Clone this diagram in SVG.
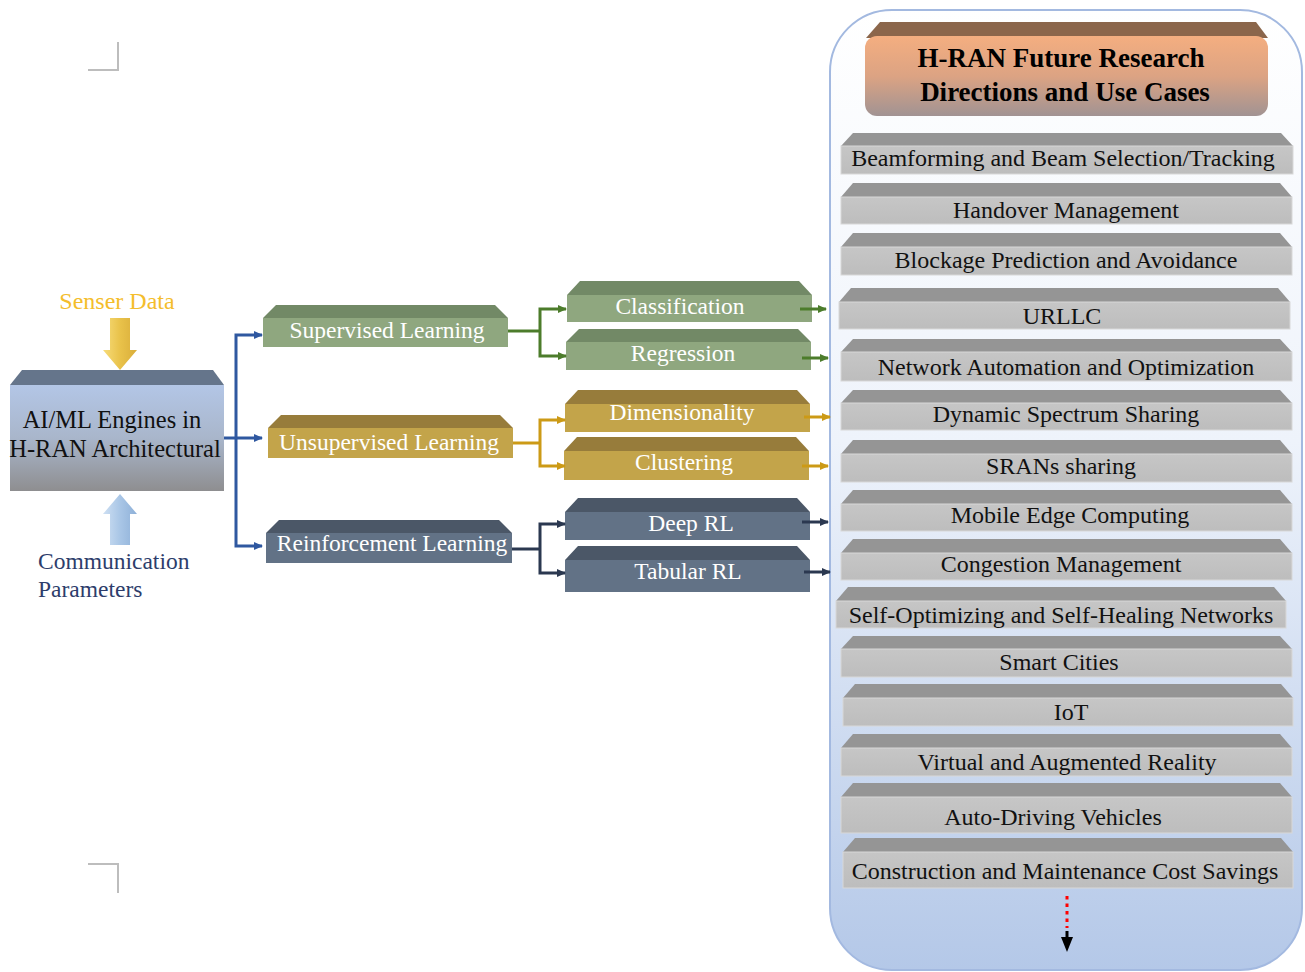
<svg xmlns="http://www.w3.org/2000/svg" width="1305" height="972" viewBox="0 0 1305 972">
<defs>
<linearGradient id="gCont" x1="0" y1="0" x2="0" y2="1">
<stop offset="0" stop-color="#ffffff"/><stop offset="0.45" stop-color="#eef3fb"/><stop offset="1" stop-color="#b4c8e8"/>
</linearGradient>
<linearGradient id="gTitle" x1="0" y1="0" x2="0" y2="1">
<stop offset="0" stop-color="#f4ae80"/><stop offset="0.5" stop-color="#dca383"/><stop offset="1" stop-color="#a19393"/>
</linearGradient>
<linearGradient id="gMain" x1="0" y1="0" x2="0" y2="1">
<stop offset="0" stop-color="#b3c6e6"/><stop offset="0.5" stop-color="#a9b6cb"/><stop offset="1" stop-color="#8e8e90"/>
</linearGradient>
<linearGradient id="gGrey" x1="0" y1="0" x2="0" y2="1">
<stop offset="0" stop-color="#c6c6c6"/><stop offset="1" stop-color="#bdbdbd"/>
</linearGradient>
<linearGradient id="gYel" x1="0" y1="0" x2="1" y2="0">
<stop offset="0" stop-color="#f7dc7a"/><stop offset="0.5" stop-color="#e9c24a"/><stop offset="1" stop-color="#d9ad3a"/>
</linearGradient>
<linearGradient id="gBlu" x1="0" y1="0" x2="1" y2="0">
<stop offset="0" stop-color="#cfe0f3"/><stop offset="0.5" stop-color="#a9c6e6"/><stop offset="1" stop-color="#8eb0d8"/>
</linearGradient>
<marker id="aBlue" markerWidth="10" markerHeight="10" refX="8" refY="5" orient="auto-start-reverse" markerUnits="userSpaceOnUse"><path d="M0,1 L9,5 L0,9 Z" fill="#2f58a0"/></marker>
<marker id="aGreen" markerWidth="10" markerHeight="10" refX="8" refY="5" orient="auto-start-reverse" markerUnits="userSpaceOnUse"><path d="M0,1 L9,5 L0,9 Z" fill="#4c7c2b"/></marker>
<marker id="aGold" markerWidth="10" markerHeight="10" refX="8" refY="5" orient="auto-start-reverse" markerUnits="userSpaceOnUse"><path d="M0,1 L9,5 L0,9 Z" fill="#cc9a16"/></marker>
<marker id="aDark" markerWidth="10" markerHeight="10" refX="8" refY="5" orient="auto-start-reverse" markerUnits="userSpaceOnUse"><path d="M0,1 L9,5 L0,9 Z" fill="#2b3850"/></marker>
</defs>
<style>
text{font-family:"Liberation Serif","Times New Roman",serif}
.gt{font-size:24px;fill:#111;text-anchor:middle}
.wt{font-size:23.5px;fill:#ffffff;text-anchor:middle}
.gtop{fill:#959595}
.gfront{fill:url(#gGrey);stroke:#d8d8d8;stroke-width:1}
.sgTop{fill:#728966}.sgFr{fill:#8fa77f}
.yeTop{fill:#977c3b}.yeFr{fill:#c3a44a}
.dkTop{fill:#4b5767}.dkFr{fill:#627286}
.c{fill:none;stroke-width:3}
.crop{stroke:#bdbdbd;stroke-width:2;fill:none}
</style>

<g id="cropmarks">
<path class="crop" d="M118,42 V70 H88"/>
<path class="crop" d="M88,864 H118 V893"/>
</g>

<g id="container">
<rect x="830" y="10" width="472" height="960" rx="62" ry="62" fill="url(#gCont)" stroke="#a3b9e0" stroke-width="2"/>
</g>

<g id="title">
<path d="M880,22 H1256 L1268,38 H866 Z" fill="#8b664b"/>
<rect x="865" y="36" width="403" height="80" rx="12" fill="url(#gTitle)"/>
<text x="1061" y="67" font-size="27" font-weight="bold" text-anchor="middle" fill="#000">H-RAN Future Research</text>
<text x="1065" y="101" font-size="27" font-weight="bold" text-anchor="middle" fill="#000">Directions and Use Cases</text>
</g>

<g id="uc1"><path class="gtop" d="M853,133 H1281 L1293,146 H841 Z"/><rect class="gfront" x="841" y="146" width="452" height="28"/><text class="gt" x="1063" y="166">Beamforming and Beam Selection/Tracking</text></g>
<g id="uc2"><path class="gtop" d="M853,183 H1280 L1292,197 H841 Z"/><rect class="gfront" x="841" y="197" width="451" height="27"/><text class="gt" x="1066" y="218">Handover Management</text></g>
<g id="uc3"><path class="gtop" d="M853,233 H1280 L1292,247 H841 Z"/><rect class="gfront" x="841" y="247" width="451" height="28"/><text class="gt" x="1066" y="268">Blockage Prediction and Avoidance</text></g>
<g id="uc4"><path class="gtop" d="M851,288 H1278 L1290,302 H839 Z"/><rect class="gfront" x="839" y="302" width="451" height="27"/><text class="gt" x="1062" y="324">URLLC</text></g>
<g id="uc5"><path class="gtop" d="M853,339 H1280 L1292,352 H841 Z"/><rect class="gfront" x="841" y="352" width="451" height="29"/><text class="gt" x="1066" y="375">Network Automation and Optimization</text></g>
<g id="uc6"><path class="gtop" d="M853,390 H1280 L1292,403 H841 Z"/><rect class="gfront" x="841" y="403" width="451" height="27"/><text class="gt" x="1066" y="422">Dynamic Spectrum Sharing</text></g>
<g id="uc7"><path class="gtop" d="M853,440 H1280 L1292,454 H841 Z"/><rect class="gfront" x="841" y="454" width="451" height="28"/><text class="gt" x="1061" y="474">SRANs sharing</text></g>
<g id="uc8"><path class="gtop" d="M853,490 H1280 L1292,504 H841 Z"/><rect class="gfront" x="841" y="504" width="451" height="27"/><text class="gt" x="1070" y="523">Mobile Edge Computing</text></g>
<g id="uc9"><path class="gtop" d="M853,539 H1280 L1292,553 H841 Z"/><rect class="gfront" x="841" y="553" width="451" height="27"/><text class="gt" x="1061" y="572">Congestion Management</text></g>
<g id="uc10"><path class="gtop" d="M848,587 H1274 L1286,601 H836 Z"/><rect class="gfront" x="836" y="601" width="450" height="27"/><text class="gt" x="1061" y="623">Self-Optimizing and Self-Healing Networks</text></g>
<g id="uc11"><path class="gtop" d="M853,636 H1280 L1292,649 H841 Z"/><rect class="gfront" x="841" y="649" width="451" height="28"/><text class="gt" x="1059" y="670">Smart Cities</text></g>
<g id="uc12"><path class="gtop" d="M855,684 H1281 L1293,698 H843 Z"/><rect class="gfront" x="843" y="698" width="450" height="28"/><text class="gt" x="1071" y="720">IoT</text></g>
<g id="uc13"><path class="gtop" d="M853,734 H1280 L1292,748 H841 Z"/><rect class="gfront" x="841" y="748" width="451" height="28"/><text class="gt" x="1067" y="770">Virtual and Augmented Reality</text></g>
<g id="uc14"><path class="gtop" d="M853,783 H1280 L1292,797 H841 Z"/><rect class="gfront" x="841" y="797" width="451" height="36"/><text class="gt" x="1053" y="825">Auto-Driving Vehicles</text></g>
<g id="uc15"><path class="gtop" d="M855,838 H1281 L1293,852 H843 Z"/><rect class="gfront" x="843" y="852" width="450" height="36"/><text class="gt" x="1065" y="879">Construction and Maintenance Cost Savings</text></g>

<g id="more">
<line x1="1067" y1="896" x2="1067" y2="928" stroke="#ff0000" stroke-width="3" stroke-dasharray="3.5,4"/>
<path d="M1061,937 H1073 L1067,952 Z" fill="#000"/>
<line x1="1067" y1="931" x2="1067" y2="939" stroke="#000" stroke-width="3"/>
</g>

<g id="senser">
<text x="117" y="309" font-size="24" text-anchor="middle" fill="#f4bd2c">Senser Data</text>
<path d="M110,318 H130 V350 H137 L120,370 L103,350 H110 Z" fill="url(#gYel)"/>
</g>

<g id="comm">
<path d="M110,545 H130 V514 H137 L120,494 L103,514 H110 Z" fill="url(#gBlu)"/>
<text x="38" y="569" font-size="23.5" fill="#2d3d6b">Communication</text>
<text x="38" y="597" font-size="23.5" fill="#2d3d6b">Parameters</text>
</g>

<g id="aiml">
<path d="M22,370 H213 L224,385 H10 Z" fill="#65758b"/>
<rect x="10" y="385" width="214" height="106" fill="url(#gMain)"/>
<text x="112" y="428" font-size="24.5" text-anchor="middle" fill="#111">AI/ML Engines in</text>
<text x="115" y="457" font-size="24.5" text-anchor="middle" fill="#111">H-RAN Architectural</text>
</g>

<g id="supervised"><path class="sgTop" d="M276,305 H495 L508,318 H263 Z"/><rect class="sgFr" x="263" y="318" width="245" height="29"/><text class="wt" x="387" y="338">Supervised Learning</text></g>
<g id="unsupervised"><path class="yeTop" d="M281,415 H500 L513,428 H268 Z"/><rect class="yeFr" x="268" y="428" width="245" height="30"/><text class="wt" x="389" y="450">Unsupervised Learning</text></g>
<g id="reinforcement"><path class="dkTop" d="M279,520 H499 L512,533 H266 Z"/><rect class="dkFr" x="266" y="533" width="246" height="30"/><text class="wt" x="392" y="551">Reinforcement Learning</text></g>

<g id="classification"><path class="sgTop" d="M580,281 H799 L812,295 H567 Z"/><rect class="sgFr" x="567" y="295" width="245" height="27"/><text class="wt" x="680" y="314">Classification</text></g>
<g id="regression"><path class="sgTop" d="M579,329 H798 L811,342 H566 Z"/><rect class="sgFr" x="566" y="342" width="245" height="28"/><text class="wt" x="683" y="361">Regression</text></g>
<g id="dimensionality"><path class="yeTop" d="M578,390 H797 L810,404 H565 Z"/><rect class="yeFr" x="565" y="404" width="245" height="28"/><text class="wt" x="682" y="420">Dimensionality</text></g>
<g id="clustering"><path class="yeTop" d="M577,437 H796 L809,451 H564 Z"/><rect class="yeFr" x="564" y="451" width="245" height="29"/><text class="wt" x="684" y="470">Clustering</text></g>
<g id="deeprl"><path class="dkTop" d="M578,498 H797 L810,512 H565 Z"/><rect class="dkFr" x="565" y="512" width="245" height="28"/><text class="wt" x="691" y="531">Deep RL</text></g>
<g id="tabularrl"><path class="dkTop" d="M578,546 H797 L810,560 H565 Z"/><rect class="dkFr" x="565" y="560" width="245" height="32"/><text class="wt" x="688" y="579">Tabular RL</text></g>

<g id="connectors">
<path class="c" stroke="#2f58a0" d="M224,438 H236"/>
<path class="c" stroke="#2f58a0" d="M262,335 H236 V546 H262" marker-start="url(#aBlue)" marker-end="url(#aBlue)"/>
<path class="c" stroke="#2f58a0" d="M236,438 H262" marker-end="url(#aBlue)"/>

<path class="c" stroke="#4c7c2b" d="M508,331 H540"/>
<path class="c" stroke="#4c7c2b" d="M566,309 H540 V356 H566" marker-start="url(#aGreen)" marker-end="url(#aGreen)"/>
<path class="c" stroke="#cc9a16" d="M513,443 H540"/>
<path class="c" stroke="#cc9a16" d="M565,420 H540 V466 H565" marker-start="url(#aGold)" marker-end="url(#aGold)"/>
<path class="c" stroke="#2b3850" d="M512,549 H540"/>
<path class="c" stroke="#2b3850" d="M565,524 H540 V573 H565" marker-start="url(#aDark)" marker-end="url(#aDark)"/>

<path class="c" stroke="#4c7c2b" d="M800,309 H826" marker-end="url(#aGreen)"/>
<path class="c" stroke="#4c7c2b" d="M802,358 H828" marker-end="url(#aGreen)"/>
<path class="c" stroke="#cc9a16" d="M804,417 H830" marker-end="url(#aGold)"/>
<path class="c" stroke="#cc9a16" d="M802,466 H828" marker-end="url(#aGold)"/>
<path class="c" stroke="#2b3850" d="M802,522 H828" marker-end="url(#aDark)"/>
<path class="c" stroke="#2b3850" d="M804,572 H830" marker-end="url(#aDark)"/>
</g>
</svg>
